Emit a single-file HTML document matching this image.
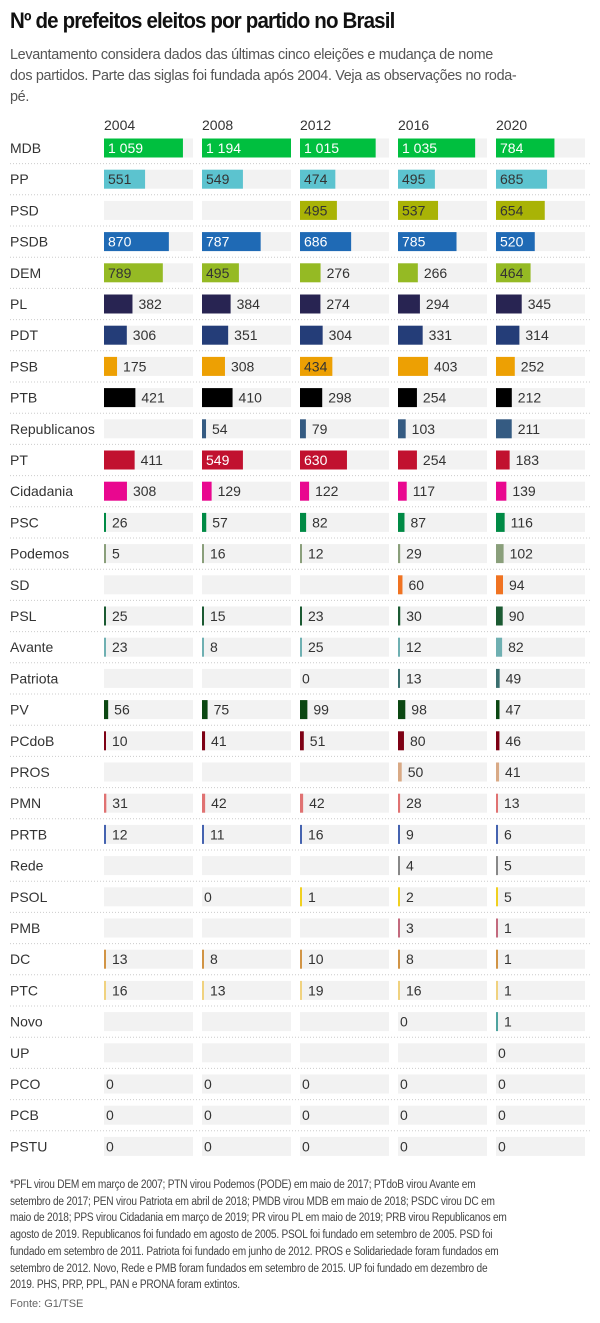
<!DOCTYPE html>
<html><head><meta charset="utf-8">
<style>
body{margin:0;width:600px;height:1323px;background:#fff;font-family:"Liberation Sans",sans-serif;color:#333;position:relative;overflow:hidden}
#title{position:absolute;left:10px;top:8px;font-size:22px;font-weight:bold;color:#111;letter-spacing:-0.9px;white-space:nowrap;transform:scaleX(0.932);transform-origin:left top}
#sub{position:absolute;left:10px;top:44px;font-size:15px;line-height:21px;color:#555;letter-spacing:-0.35px;white-space:nowrap;transform:scaleX(0.96);transform-origin:left top}
#notes{position:absolute;left:10px;top:1177px;font-size:11.5px;line-height:16.7px;color:#444;letter-spacing:-0.25px;white-space:nowrap;transform:scaleX(0.88);transform-origin:left top}
#src{position:absolute;left:10px;top:1298px;font-size:11px;color:#666}
svg text{font-family:"Liberation Sans",sans-serif}
</style></head><body>
<div id="title">Nº de prefeitos eleitos por partido no Brasil</div>
<div id="sub">Levantamento considera dados das últimas cinco eleições e mudança de nome<br>dos partidos. Parte das siglas foi fundada após 2004. Veja as observações no roda-<br>pé.</div>
<svg id="chart" width="600" height="1170" style="position:absolute;left:0;top:0"></svg>
<div id="notes">*PFL virou DEM em março de 2007; PTN virou Podemos (PODE) em maio de 2017; PTdoB virou Avante em<br>setembro de 2017; PEN virou Patriota em abril de 2018; PMDB virou MDB em maio de 2018; PSDC virou DC em<br>maio de 2018; PPS virou Cidadania em março de 2019; PR virou PL em maio de 2019; PRB virou Republicanos em<br>agosto de 2019. Republicanos foi fundado em agosto de 2005. PSOL foi fundado em setembro de 2005. PSD foi<br>fundado em setembro de 2011. Patriota foi fundado em junho de 2012. PROS e Solidariedade foram fundados em<br>setembro de 2012. Novo, Rede e PMB foram fundados em setembro de 2015. UP foi fundado em dezembro de<br>2019. PHS, PRP, PPL, PAN e PRONA foram extintos.</div>
<div id="src">Fonte: G1/TSE</div>
<script>
const years=["2004","2008","2012","2016","2020"];
const parties=["MDB","PP","PSD","PSDB","DEM","PL","PDT","PSB","PTB","Republicanos","PT","Cidadania","PSC","Podemos","SD","PSL","Avante","Patriota","PV","PCdoB","PROS","PMN","PRTB","Rede","PSOL","PMB","DC","PTC","Novo","UP","PCO","PCB","PSTU"];
const v2004=[1059,551,null,870,789,382,306,175,421,null,411,308,26,5,null,25,23,null,56,10,null,31,12,null,null,null,13,16,null,null,0,0,0];
const v2008=[1194,549,null,787,495,384,351,308,410,54,549,129,57,16,null,15,8,null,75,41,null,42,11,null,0,null,8,13,null,null,0,0,0];
const v2012=[1015,474,495,686,276,274,304,434,298,79,630,122,82,12,null,23,25,0,99,51,null,42,16,null,1,null,10,19,null,null,0,0,0];
const v2016=[1035,495,537,785,266,294,331,403,254,103,254,117,87,29,60,30,12,13,98,80,50,28,9,4,2,3,8,16,0,null,0,0,0];
const v2020=[784,685,654,520,464,345,314,252,212,211,183,139,116,102,94,90,82,49,47,46,41,13,6,5,5,1,1,1,1,0,0,0,0];
const colors=["#00bf3f","#5cc3cf","#a9b306","#1f6ab5","#95ba24","#282452","#243d78","#eda003","#000000","#355b82","#c1112f","#e9078f","#008a45","#8a9f7b","#f07322","#1b5a32","#6fb0b2","#3a6f6f","#0b4712","#7d0014","#d9aa86","#e07272","#4563b0","#888888","#f0d020","#c36a7e","#d19445","#f0d27f","#4ea39f","#999999","#999999","#999999","#999999"];
const lightText=["#5cc3cf","#95ba24","#eda003","#a9b306"];
const series=[v2004,v2008,v2012,v2016,v2020];
const svg=document.getElementById('chart');
const NS="http://www.w3.org/2000/svg";
const colX=i=>104+i*98, colW=89, maxV=1194;
const xs=v=>Math.max(v>0?2:0,v/maxV*colW);
const rowY=i=>148+i*31.2;
function mk(t,a){const e=document.createElementNS(NS,t);for(const k in a)e.setAttribute(k,a[k]);svg.appendChild(e);return e;}
years.forEach((y,i)=>{const t=mk('text',{x:colX(i),y:130,'font-size':14,fill:'#333'});


t.textContent=y;});
parties.forEach((p,r)=>{
 const cy=rowY(r);
 const lab=mk('text',{x:10,y:cy+5,'font-size':14,fill:'#333'});
 
 
 lab.textContent=p;
 if(r>0){const ln=mk('line',{x1:10,x2:590,y1:cy-15.6,y2:cy-15.6,stroke:'#ccc','stroke-dasharray':'1,2'});
 
 }
 series.forEach((s,i)=>{
  const bg=mk('rect',{x:colX(i),y:cy-9.5,width:colW,height:19,fill:'#f2f2f2'});
  
  
  const v=s[r]; if(v===null) return;
  const w=xs(v);
  if(w>0){const b=mk('rect',{x:colX(i),y:cy-9.5,width:w,height:19,fill:colors[r]});
  
  }
  const inside=v>=430;
  const tc=inside?(lightText.includes(colors[r])?'#333':'#fff'):'#333';
  const t=mk('text',{x:inside?colX(i)+4:colX(i)+w+(w>0?6:2),y:cy+5,'font-size':14,fill:tc});
  
  
  t.textContent=v>=1000?String(v).replace(/^(\d)(\d{3})$/,'$1 $2'):String(v);
 });
});
</script>
</body></html>
